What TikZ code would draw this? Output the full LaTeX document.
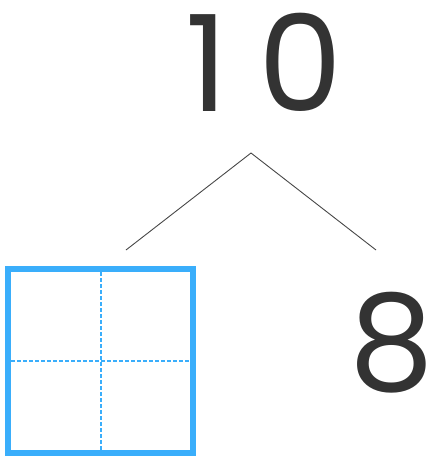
\documentclass[tikz,border=0pt]{standalone}
\usepackage{fontspec}
\setmainfont{Poppins}
\definecolor{digit}{HTML}{333333}
\definecolor{boxblue}{HTML}{3AAEFB}
\tikzset{
  numtext/.style={inner sep=0pt, text=digit, font=\fontsize{134}{134}\selectfont, anchor=base},
  branch/.style={draw=digit!90, line width=0.9pt},
  outerbox/.style={draw=boxblue, line width=6pt},
  midline/.style={draw=boxblue, line width=1.3pt, dash pattern=on 4pt off 2pt}
}
\begin{document}
\begin{tikzpicture}[x=1pt,y=-1pt]
\useasboundingbox (0,0) rectangle (435,456);
\node[numtext] (ten) at (264,111) {1\kern30pt 0};
\node[numtext] (eight) at (392,390) {8};
\coordinate (top) at (251,153);
\coordinate (left) at (126,250);
\coordinate (right) at (376,250);
\draw[branch] (left) -- (top) -- (right);
\draw[outerbox] (8,269) rectangle (192.5,452.5);
\draw[midline] (101,272) -- (101,449.5);
\draw[midline] (11,361) -- (189.5,361);
\end{tikzpicture}
\end{document}
